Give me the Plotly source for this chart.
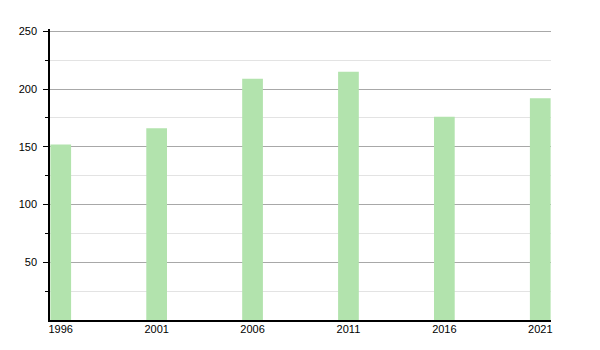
import plotly.graph_objects as go

years = [1996, 2001, 2006, 2011, 2016, 2021]
values = [152, 166, 209, 215, 176, 192]
y_ticks = [50, 100, 150, 200, 250]
y_minor_ticks = [25, 75, 125, 175, 225]

fig = go.Figure()
fig.add_trace(go.Bar(
    x=years, y=values, width=1.08,
    marker=dict(color="#b2e3ad", line=dict(width=0)),
))

fig.update_layout(
    width=600, height=350,
    margin=dict(l=50, r=49, t=29, b=30),
    paper_bgcolor="white", plot_bgcolor="white",
    showlegend=False,
    font=dict(family="Liberation Sans, Arial, sans-serif", size=11, color="#000"),
)
fig.update_xaxes(
    range=[1995.44, 2021.56],
    tickvals=years, ticktext=[str(y) for y in years],
    showgrid=False, showline=True, linecolor="black", linewidth=1.5,
    ticks="", zeroline=False, ticklabelstandoff=-2,
)
fig.update_yaxes(
    range=[0, 252],
    tickvals=y_ticks,
    showgrid=True, gridcolor="#a8a8a8", gridwidth=1,
    showline=True, linecolor="black", linewidth=1.5,
    ticks="outside", ticklen=5, tickcolor="black", tickwidth=1,
    zeroline=False, ticklabelstandoff=4,
    minor=dict(tickvals=y_minor_ticks, showgrid=True, gridcolor="#e3e3e3", gridwidth=1,
               ticks="outside", ticklen=3, tickcolor="black"),
)

fig.write_html("out.html")
